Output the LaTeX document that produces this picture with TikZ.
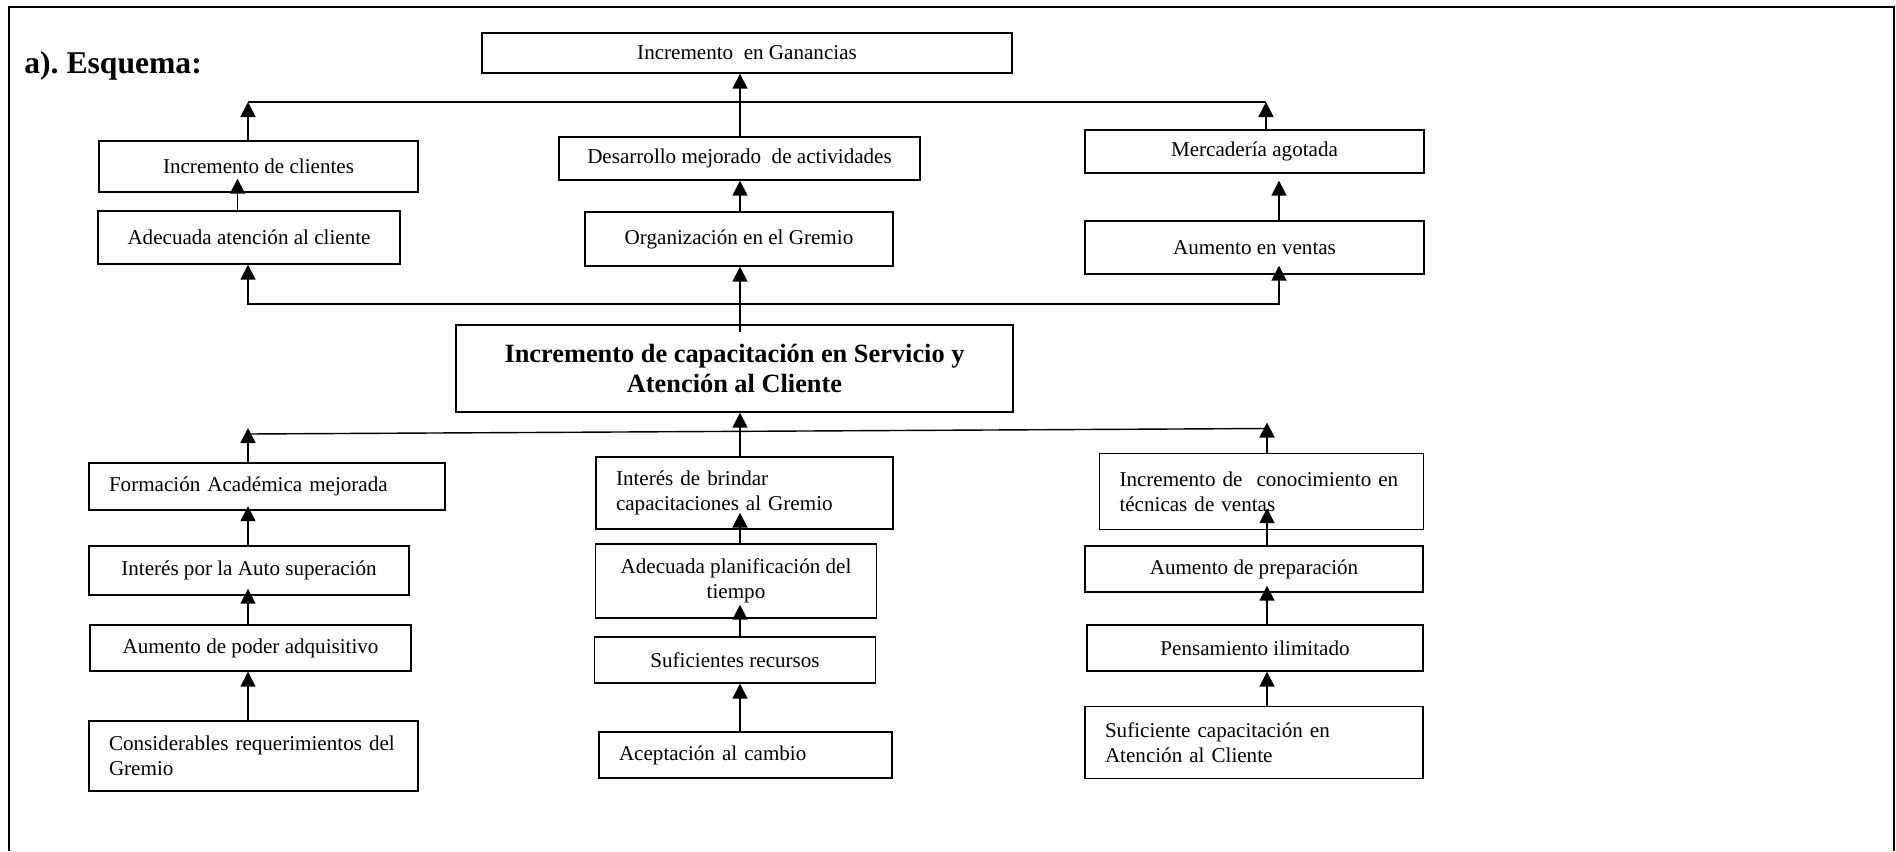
\documentclass[tikz,border=0pt]{standalone}
\usepackage{fontspec}
\setmainfont{Liberation Serif}
\usetikzlibrary{arrows.meta}
\begin{document}
\begin{tikzpicture}
  [x=0.2mm,y=-0.2mm,
   every node/.style={font=\fontsize{12}{14}\selectfont},
   box/.style 2 args={draw,line width=0.8pt,minimum width=#1*0.2mm,minimum height=#2*0.2mm,inner sep=0pt,align=center},
   lbox/.style 2 args={box={#1}{#2},align=left,inner xsep=4mm,text width=#1*0.2mm-8mm},
   arr/.style={-{Triangle[length=3mm,width=3mm]},line width=1pt}]
\useasboundingbox (0,0) rectangle (1896,851);
\draw[line width=1.1pt] (9,851) -- (9,7) -- (1894,7) -- (1894,851);
\node (titulo)[anchor=base west,inner sep=0pt,font=\fontsize{18}{20}\selectfont\bfseries] at (24,73) {a).\ Esquema:};
% efectos
\node (gan)[box={530}{40}] at (747,53) {Incremento~ en Ganancias};
\node (cli)[box={319}{51}] at (258.5,166.5) {Incremento de clientes};
\node (ada)[box={302}{53}] at (249,237.5) {Adecuada atención al cliente};
\node (des)[box={361}{43}] at (739.5,158.5) {Desarrollo mejorado~ de actividades};
\node (org)[box={308}{54}] at (739,239) {Organización en el Gremio};
\node (mer)[box={339}{43}] at (1254.5,151.5) {Mercadería agotada};
\node (ven)[box={339}{53}] at (1254.5,247.5) {Aumento en ventas};
% problema central
\node (cap)[box={557}{87},font=\fontsize{15}{17.4}\selectfont\bfseries] at (734.5,368.5) {Incremento de capacitación en Servicio y\\Atención al Cliente};
% causas
\node (for)[lbox={356}{47}] at (267,486.5) {Formación Académica mejorada};
\node (aut)[box={320}{49}] at (249,570.5) {Interés por la Auto superación};
\node (pod)[box={321}{46}] at (250.5,648) {Aumento de poder adquisitivo};
\node (req)[lbox={329}{70}] at (253.5,756) {Considerables requerimientos del\\Gremio};
\node (bri)[lbox={297}{72}] at (744.5,493) {Interés de brindar\\capacitaciones al Gremio};
\node (pla)[box={281}{74}] at (736,581) {Adecuada planificación del\\tiempo};
\node (rec)[box={281}{46}] at (735,660) {Suficientes recursos};
\node (cam)[lbox={293}{46}] at (745.5,755) {Aceptación al cambio};
\node (con)[lbox={324}{76}] at (1261.5,491.5) {Incremento de~ conocimiento en\\técnicas de ventas};
\node (pre)[box={338}{46}] at (1254,569) {Aumento de preparación};
\node (ili)[box={336}{46}] at (1255,648) {Pensamiento ilimitado};
\node (suf)[lbox={338}{72}] at (1254,742.5) {Suficiente capacitación en\\Atención al Cliente};
\coordinate (c1) at (237.5,0);
\coordinate (c2) at (248,0);
\coordinate (c3) at (740,0);
\coordinate (c4) at (1267,0);
\coordinate (c5) at (1279,0);
\coordinate (tl) at (248,102);
\coordinate (tr) at (1266,102);
\coordinate (ml) at (248,304);
\coordinate (mr) at (1279,304);
\coordinate (ll) at (248,434);
\coordinate (lr) at (1267,428.5);
 \foreach \from/\to/\col/\sh in {ada/cli/c1/-2.8,org/des/c3/0,des/gan/c3/0,ven/mer/c5/1.4,
    aut/for/c2/-0.9,pod/aut/c2/-1.4,req/pod/c2/0,
    bri/cap/c3/0,pla/bri/c3/-3.4,rec/pla/c3/-2.8,cam/rec/c3/0,
    pre/con/c4/-4.4,ili/pre/c4/-1.4,suf/ili/c4/0}
    \draw[arr,shorten >=\sh mm] (\from.north -| \col) -- (\to.south -| \col);
\draw[line width=0.8pt] (tl) -- (tr);
\draw[arr] (cli.north -| tl) -- (tl);
\draw[arr] (mer.north -| tr) -- (tr);
\draw[arr,{Triangle[length=3mm,width=3mm]}-{Triangle[length=3mm,width=3mm]},shorten >=-1.8mm]
  (ada.south -| ml) -- (ml) -- (mr) -- (ven.south -| mr);
\draw[arr,shorten <=-1.6mm] (cap.north -| c3) -- (org.south -| c3);
\draw[line width=0.8pt] (ll) -- (lr);
\draw[arr,shorten >=-1.2mm] (for.north -| ll) -- (ll);
\draw[arr,shorten >=-1.2mm] (con.north -| lr) -- (lr);
\end{tikzpicture}
\end{document}
